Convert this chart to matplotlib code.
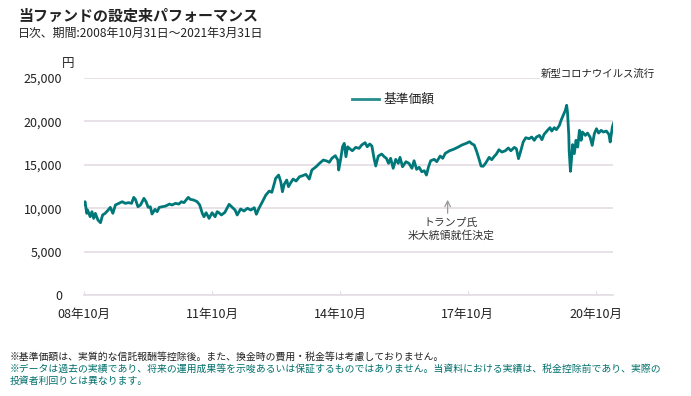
import pandas as pd
import matplotlib.pyplot as plt

plt.rcParams['font.family'] = ['Noto Sans CJK JP', 'DejaVu Sans']

# 基準価額 (円); dates as decimal years
years = [
    2008.83, 2008.85, 2008.89, 2008.91, 2008.97, 2009.01, 2009.05, 2009.09, 2009.15, 2009.21,
    2009.26, 2009.32, 2009.39, 2009.44, 2009.50, 2009.56, 2009.64, 2009.72, 2009.79, 2009.87,
    2009.94, 2009.99, 2010.03, 2010.09, 2010.15, 2010.23, 2010.28, 2010.33, 2010.38, 2010.42,
    2010.49, 2010.54, 2010.59, 2010.66, 2010.74, 2010.83, 2010.89, 2010.97, 2011.05, 2011.11,
    2011.17, 2011.27, 2011.32, 2011.40, 2011.48, 2011.54, 2011.60, 2011.64, 2011.69, 2011.76,
    2011.83, 2011.90, 2011.95, 2011.98, 2012.05, 2012.13, 2012.23, 2012.29, 2012.37, 2012.42,
    2012.50, 2012.58, 2012.66, 2012.74, 2012.82, 2012.87, 2012.93, 2013.01, 2013.09, 2013.17,
    2013.23, 2013.29, 2013.32, 2013.39, 2013.44, 2013.48, 2013.52, 2013.58, 2013.62, 2013.68,
    2013.73, 2013.80, 2013.88, 2013.95, 2014.03, 2014.11, 2014.17, 2014.27, 2014.35, 2014.44,
    2014.52, 2014.58, 2014.64, 2014.72, 2014.78, 2014.80, 2014.85, 2014.89, 2014.93, 2014.97,
    2015.01, 2015.05, 2015.12, 2015.20, 2015.28, 2015.34, 2015.42, 2015.47, 2015.53, 2015.58,
    2015.63, 2015.67, 2015.73, 2015.81, 2015.87, 2015.92, 2015.97, 2016.02, 2016.08, 2016.14,
    2016.20, 2016.24, 2016.30, 2016.38, 2016.45, 2016.52, 2016.57, 2016.63, 2016.69, 2016.75,
    2016.81, 2016.86, 2016.91, 2016.96, 2017.04, 2017.10, 2017.18, 2017.24, 2017.30, 2017.40,
    2017.49, 2017.59, 2017.69, 2017.79, 2017.87, 2017.93, 2017.98, 2018.04, 2018.10, 2018.14,
    2018.19, 2018.25, 2018.33, 2018.39, 2018.45, 2018.50, 2018.56, 2018.63, 2018.71, 2018.78,
    2018.84, 2018.92, 2018.97, 2019.02, 2019.07, 2019.13, 2019.19, 2019.27, 2019.33, 2019.39,
    2019.44, 2019.51, 2019.57, 2019.62, 2019.70, 2019.76, 2019.80, 2019.86, 2019.91, 2019.98,
    2020.02, 2020.07, 2020.12, 2020.15, 2020.17, 2020.20, 2020.21, 2020.24, 2020.26, 2020.29,
    2020.33, 2020.37, 2020.41, 2020.45, 2020.49, 2020.52, 2020.59, 2020.64, 2020.70, 2020.75,
    2020.80, 2020.85, 2020.90, 2020.96, 2021.01, 2021.08, 2021.14, 2021.17, 2021.22, 2021.25,
]
nav = [
    10500, 10750, 9410, 9790, 9020, 9600, 8830, 9410, 8640, 8330,
    9220, 9410, 9790, 10100, 9410, 10370, 10560, 10750, 10560, 10640,
    10560, 11250, 11020, 10170, 10370, 11140, 10750, 10100, 10170, 9330,
    9870, 9600, 10100, 10170, 10250, 10480, 10370, 10560, 10480, 10750,
    10640, 11250, 11020, 10940, 10750, 10370, 9410, 9020, 9480, 8830,
    9480, 9020, 9600, 9520, 9220, 9520, 10450, 10170, 9790, 9220,
    9910, 9680, 9990, 9790, 10060, 9300, 9990, 10750, 11520, 11980,
    11830, 12870, 13440, 13820, 13050, 11900, 12750, 13250, 12480, 12980,
    13360, 13130, 13630, 13740, 13900, 13360, 14400, 14780, 15170, 15550,
    15440, 15290, 15750, 16050, 15550, 14400, 15750, 17080, 17470, 15930,
    17080, 16900, 16620, 17010, 16900, 17280, 17550, 17080, 17400, 17160,
    15750, 14860, 16010, 16240, 15930, 15750, 15170, 15750, 14600, 15630,
    15170, 15860, 14780, 15360, 15170, 14600, 15470, 14480, 14710, 14200,
    14320, 13820, 14780, 15470, 15630, 15360, 16010, 15750, 16320, 16620,
    16780, 17010, 17280, 17470, 17660, 17400, 17280, 16510, 15550, 14860,
    14830, 15210, 15860, 15590, 15970, 16240, 16740, 16470, 16620, 16940,
    16620, 17010, 16850, 15710, 16550, 17630, 18120, 18010, 18200, 17820,
    18200, 18390, 17890, 18510, 18970, 19280, 18890, 19280, 19050, 19550,
    20130, 20700, 21280, 21860, 21080, 18470, 16550, 14250, 15400, 17330,
    16290, 17820, 17050, 18970, 17820, 18780, 18390, 18660, 18200, 17240,
    18580, 19160, 18660, 18970, 18780, 18890, 18510, 17630, 19350, 19810,
]

tick_dates = ["2008-10-31", "2011-10-31", "2014-10-31", "2017-10-31", "2020-10-31"]
tick_labels = ["08年10月", "11年10月", "14年10月", "17年10月", "20年10月"]
y_ticks = [0, 5000, 10000, 15000, 20000, 25000]

teal = "#00787a"
grid_c = "#e4dde4"


def to_date(y):
    yr = int(y)
    return pd.Timestamp(yr, 1, 1) + pd.Timedelta(days=(y - yr) * 365.25)


df = pd.DataFrame({"Date": [to_date(y) for y in years], "NAV": nav})

fig = plt.figure(figsize=(6.91, 3.96), dpi=100)
ax = fig.add_axes([0.122, 0.255, 0.7656, 0.548])

ax.plot(df["Date"], df["NAV"], color=teal, linewidth=2.0, solid_joinstyle="round")

ax.set_ylim(0, 25000)
ax.set_xlim(pd.Timestamp("2008-10-31"), pd.Timestamp("2021-03-31"))
ax.set_yticks(y_ticks)
ax.set_yticklabels([f"{v:,}" for v in y_ticks])
ax.set_xticks(pd.to_datetime(tick_dates))
ax.set_xticklabels(tick_labels)

ax.grid(axis="y", color=grid_c, linewidth=1.2)
ax.set_axisbelow(True)
for s in ["top", "right", "left"]:
    ax.spines[s].set_visible(False)
ax.spines["bottom"].set_color(grid_c)
ax.spines["bottom"].set_linewidth(1.2)
ax.tick_params(axis="y", length=0, pad=16, labelsize=9, labelcolor="#222222")
ax.tick_params(axis="x", direction="in", length=3, color=grid_c, pad=9,
               labelsize=9, labelcolor="#222222")

# trump annotation
ax.annotate("", xy=(pd.Timestamp("2017-05-11"), 11300),
            xytext=(pd.Timestamp("2017-05-11"), 9100),
            arrowprops=dict(arrowstyle="->", color="#999999", lw=0.9))
fig.text(451 / 691, 1 - 229 / 396, "トランプ氏\n米大統領就任決定", ha="center",
         va="center", fontsize=7.8, color="#333333", linespacing=1.25)

# legend
fig.add_artist(plt.Line2D([352 / 691, 379 / 691], [1 - 99 / 396, 1 - 99 / 396],
                          color=teal, linewidth=2.0, alpha=0.85))
fig.text(383 / 691, 1 - 99 / 396, "基準価額", ha="left", va="center",
         fontsize=9.2, color="#222222")

fig.text(541 / 691, 1 - 74 / 396, "新型コロナウイルス流行", ha="left", va="center",
         fontsize=7.5, color="#222222",
         bbox=dict(facecolor="white", edgecolor="none", pad=1))

fig.text(68 / 691, 1 - 63 / 396, "円", ha="center", va="center", fontsize=9,
         color="#222222")

# titles
fig.text(18 / 691, 1 - 16 / 396, "当ファンドの設定来パフォーマンス", ha="left",
         va="center", fontsize=10.8, fontweight="bold", color="#222222")
fig.text(18 / 691, 1 - 33 / 396, "日次、期間:2008年10月31日～2021年3月31日",
         ha="left", va="center", fontsize=8.6, color="#222222")

# footnotes
fig.text(10 / 691, 1 - 357 / 396,
         "※基準価額は、実質的な信託報酬等控除後。また、換金時の費用・税金等は考慮しておりません。",
         ha="left", va="center", fontsize=7.1, color="#222222")
fig.text(10 / 691, 1 - 369 / 396,
         "※データは過去の実績であり、将来の運用成果等を示唆あるいは保証するものではありません。当資料における実績は、税金控除前であり、実際の",
         ha="left", va="center", fontsize=7.1, color="#00706c")
fig.text(10 / 691, 1 - 381 / 396, "投資者利回りとは異なります。",
         ha="left", va="center", fontsize=7.1, color="#00706c")

fig.savefig("out.png", dpi=100)
